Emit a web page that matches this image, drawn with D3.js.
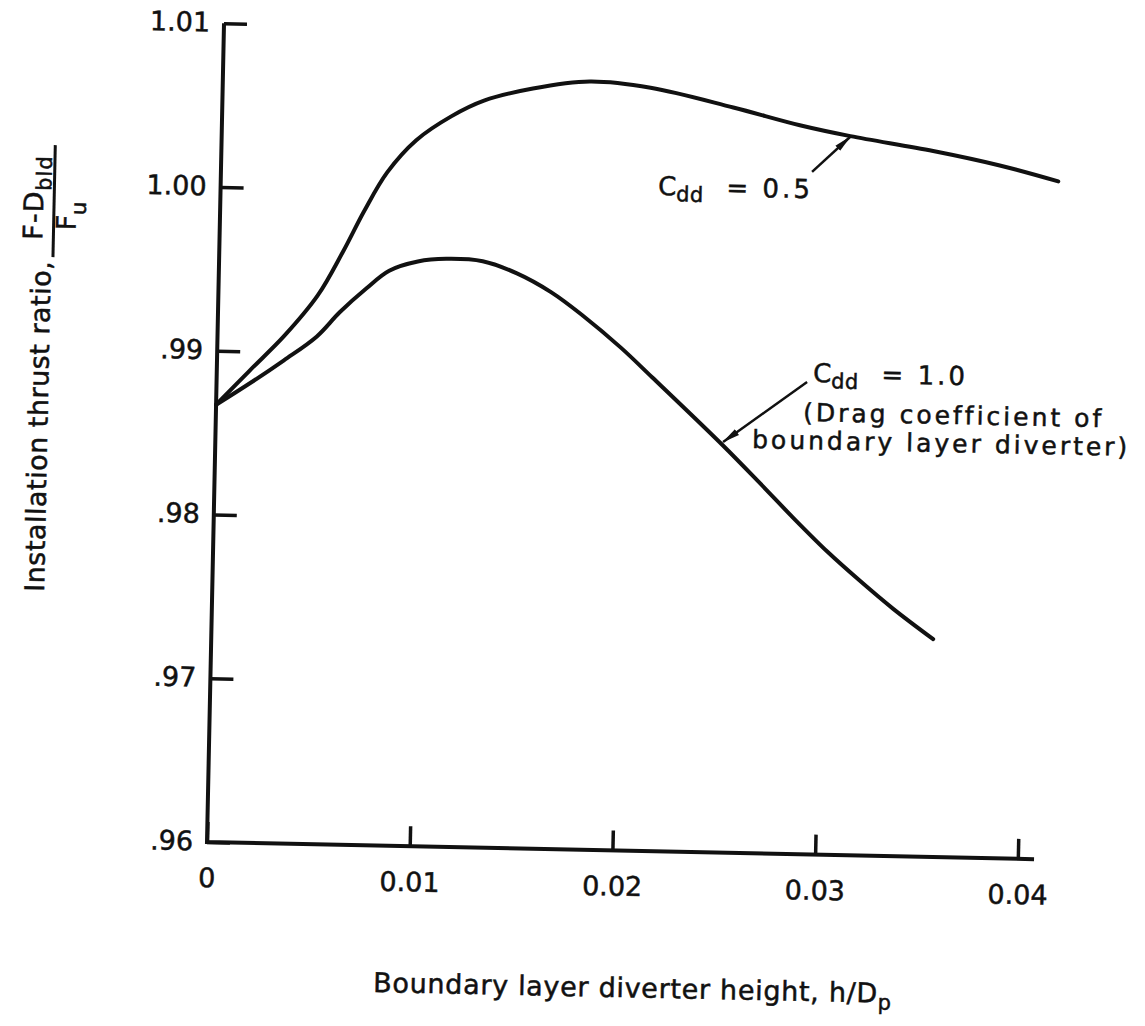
<!DOCTYPE html>
<html>
<head>
<meta charset="utf-8">
<script src="https://cdn.jsdelivr.net/npm/d3@7"></script>
<style>
  body { margin: 0; background: #fff; }
  text { font-family: "DejaVu Sans", sans-serif; fill: #111; stroke: #111; stroke-width: 0.5px; }
</style>
</head>
<body>
<div id="chart"></div>
<script>
// tick values and labels
var xTicks = [0, 0.01, 0.02, 0.03, 0.04];
var xTickLabels = ["0", "0.01", "0.02", "0.03", "0.04"];
var yTicks = [0.96, 0.97, 0.98, 0.99, 1.00, 1.01];
var yTickLabels = [".96", ".97", ".98", ".99", "1.00", "1.01"];

// Cdd = 0.5 curve
var h05 = [0, 0.0016, 0.0033, 0.0049, 0.0061, 0.0071, 0.0082, 0.0096, 0.0113, 0.0129,
           0.0153, 0.0181, 0.0211, 0.0252, 0.0285, 0.031, 0.0351, 0.0384, 0.0413];
var thrust05 = [0.9867, 0.9888, 0.9910, 0.9935, 0.9962, 0.9987, 1.0011, 1.0031, 1.0046, 1.0056,
                1.0064, 1.0069, 1.0066, 1.0055, 1.0045, 1.0039, 1.0031, 1.0023, 1.0014];

// Cdd = 1.0 curve
var h10 = [0, 0.0017, 0.0033, 0.0049, 0.006, 0.0073, 0.0084, 0.0098, 0.0112, 0.013, 0.0147,
           0.0164, 0.018, 0.0199, 0.0215, 0.025, 0.0269, 0.0286, 0.0303, 0.0319, 0.0336, 0.0356];
var thrust10 = [0.9867, 0.9881, 0.9895, 0.9910, 0.9925, 0.9940, 0.9951, 0.9957, 0.9959, 0.9958, 0.9951,
                0.9940, 0.9926, 0.9907, 0.9889, 0.9849, 0.9826, 0.9805, 0.9785, 0.9768, 0.9751, 0.9733];

var xAxisEnd = 0.0408;

//Layout
var W = 1145, H = 1026;
var X0 = 207, Y0 = 842;      // origin of the plot (h=0, ratio=.96)
var plotW = 811, plotH = 819;
var ANG = 1.19;              // the scanned page is slightly skewed

var svg = d3.select("#chart").append("svg")
    .attr("width", W)
    .attr("height", H);

svg.append("defs").append("marker")
    .attr("id", "arrow")
    .attr("viewBox", "0 0 18 10")
    .attr("refX", 17)
    .attr("refY", 5)
    .attr("markerWidth", 18)
    .attr("markerHeight", 10)
    .attr("markerUnits", "userSpaceOnUse")
    .attr("orient", "auto")
    .append("path")
    .attr("d", "M0,1.5 L18,5 L0,8.5 Z")
    .attr("fill", "#111");

var g = svg.append("g")
    .attr("transform", "rotate(" + ANG + "," + X0 + "," + Y0 + ")");

// screen point -> point inside the rotated group
function unrot(sx, sy) {
    var a = ANG * Math.PI / 180;
    var dx = sx - X0, dy = sy - Y0;
    return [X0 + dx * Math.cos(a) + dy * Math.sin(a), Y0 - dx * Math.sin(a) + dy * Math.cos(a)];
}

// SCALES
var x = d3.scaleLinear().domain([0, 0.04]).range([X0, X0 + plotW]);
var y = d3.scaleLinear().domain([0.96, 1.01]).range([Y0, Y0 - plotH]);

//AXIS
var xAxis = d3.axisBottom(x)
    .tickValues(xTicks)
    .tickFormat(function (d, i) { return xTickLabels[i]; })
    .tickSize(-20)
    .tickSizeOuter(0)
    .tickPadding(26);

var yAxis = d3.axisLeft(y)
    .tickValues(yTicks)
    .tickFormat(function (d, i) { return yTickLabels[i]; })
    .tickSize(-23)
    .tickSizeOuter(0)
    .tickPadding(14);

var xg = g.append("g").attr("transform", "translate(0," + Y0 + ")").call(xAxis);
var yg = g.append("g").attr("transform", "translate(" + X0 + ",0)").call(yAxis);

[xg, yg].forEach(function (ax) {
    ax.select(".domain").remove();
    ax.selectAll(".tick line").attr("stroke", "#111").attr("stroke-width", 3.5);
    ax.selectAll(".tick text")
        .attr("fill", "#111")
        .style("font-family", "'DejaVu Sans', sans-serif")
        .style("font-size", "27px");
});
yg.selectAll(".tick text").attr("dy", "0.3em");

// axis lines
g.append("path")
    .attr("d", "M" + x(0) + "," + y(1.01) + "V" + y(0.96) + "H" + x(xAxisEnd))
    .attr("fill", "none")
    .attr("stroke", "#111")
    .attr("stroke-width", 4)
    .attr("stroke-linejoin", "miter");

// CURVES
var line = d3.line()
    .x(function (d) { return x(d[0]); })
    .y(function (d) { return y(d[1]); })
    .curve(d3.curveCatmullRom.alpha(0.5));

g.append("path")
    .datum(d3.zip(h05, thrust05))
    .attr("d", line)
    .attr("fill", "none")
    .attr("stroke", "#111")
    .attr("stroke-width", 4)
    .attr("stroke-linecap", "round");

g.append("path")
    .datum(d3.zip(h10, thrust10))
    .attr("d", line)
    .attr("fill", "none")
    .attr("stroke", "#111")
    .attr("stroke-width", 4)
    .attr("stroke-linecap", "round");

// ANNOTATIONS
var arrows = [
    [[0.02915, 1.00167], [0.0310, 1.00386]],
    [[0.02912, 0.98884], [0.02504, 0.98507]]
];
arrows.forEach(function (a) {
    g.append("line")
        .attr("x1", x(a[0][0])).attr("y1", y(a[0][1]))
        .attr("x2", x(a[1][0])).attr("y2", y(a[1][1]))
        .attr("stroke", "#111")
        .attr("stroke-width", 2.5)
        .attr("marker-end", "url(#arrow)");
});

function cddLabel(sx, sy, value) {
    var p = unrot(sx, sy);
    var t = g.append("text")
        .attr("x", p[0]).attr("y", p[1])
        .style("font-size", "26px")
        .style("letter-spacing", "3px");
    t.append("tspan").style("letter-spacing", "0px").text("C");
    t.append("tspan").attr("dy", 6).style("font-size", "21px").style("letter-spacing", "0.5px").text("dd");
    t.append("tspan").attr("dy", -6).attr("xml:space", "preserve").text("  = " + value);
}
cddLabel(658, 195, "0.5");
cddLabel(813, 382, "1.0");

var noteLines = ["(Drag coefficient of", "boundary layer diverter)"];
var notePos = [[803, 421], [752, 448]];
noteLines.forEach(function (s, i) {
    var p = unrot(notePos[i][0], notePos[i][1]);
    g.append("text")
        .attr("x", p[0]).attr("y", p[1])
        .style("font-size", "25px")
        .style("letter-spacing", "3px")
        .text(s);
});

// x axis title
var xt = unrot(373, 992);
var xTitle = g.append("text")
    .attr("x", xt[0]).attr("y", xt[1])
    .style("font-size", "27px")
    .style("letter-spacing", "0.7px");
xTitle.append("tspan").text("Boundary layer diverter height, h/D");
xTitle.append("tspan").attr("dy", 7).style("font-size", "21px").text("p");

// y axis title (rotated), with the fraction
var yt = unrot(44, 592);
var yTitle = g.append("g")
    .attr("transform", "translate(" + yt[0] + "," + yt[1] + ") rotate(-90)");

yTitle.append("text")
    .attr("x", 0).attr("y", 0)
    .style("font-size", "27px")
    .style("letter-spacing", "0.5px")
    .text("Installation thrust ratio,");

var num = yTitle.append("text")
    .attr("x", 352).attr("y", -9)
    .style("font-size", "27px")
    .style("letter-spacing", "1px");
num.append("tspan").text("F-D");
num.append("tspan").attr("dy", 8).style("font-size", "21px").text("bld");

yTitle.append("line")
    .attr("x1", 335).attr("x2", 447)
    .attr("y1", 2).attr("y2", 2)
    .attr("stroke", "#111")
    .attr("stroke-width", 3);

var den = yTitle.append("text")
    .attr("x", 362).attr("y", 24)
    .style("font-size", "27px");
den.append("tspan").text("F");
den.append("tspan").attr("dy", 10).style("font-size", "21px").text("u");
</script>
</body>
</html>
